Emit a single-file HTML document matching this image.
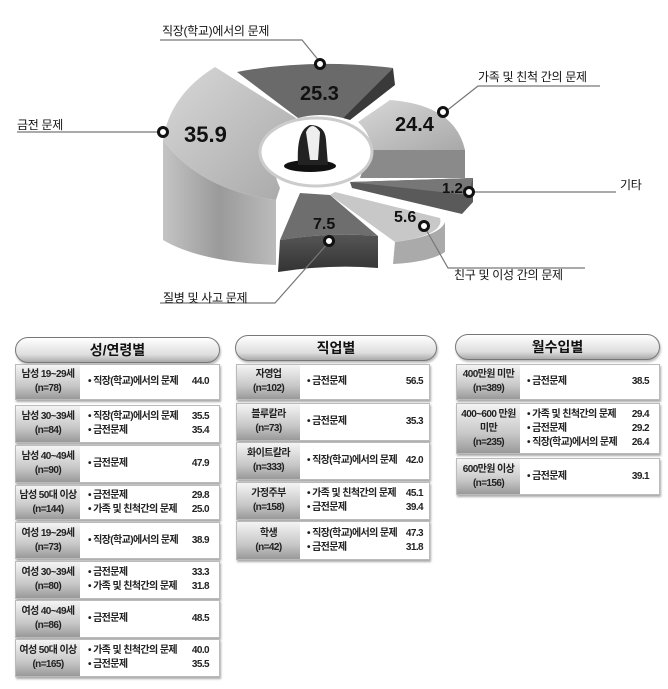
<!DOCTYPE html>
<html><head><meta charset="utf-8"><style>
body{margin:0;background:#fff;width:668px;height:689px;position:relative;overflow:hidden;font-family:"Liberation Sans","Noto Sans CJK KR",sans-serif;}
.t{position:absolute;font-size:12px;color:#111;white-space:nowrap;letter-spacing:-0.3px}
.pill{position:absolute;height:24px;border:1px solid #777;border-radius:14px;background:linear-gradient(#fff,#ddd 70%,#aaa);text-align:center;font-weight:bold;font-size:14px;line-height:24px;color:#111;box-shadow:1px 2px 2px #bbb}
.row{position:absolute;border:1px solid #bbb;box-shadow:1px 2px 2px #aaa;background:#fff;font-size:10px;font-weight:bold;letter-spacing:-0.6px;color:#222;white-space:nowrap}
.lab{position:absolute;left:0;top:0;bottom:0;background:linear-gradient(#f4f4f4,#c8c8c8 60%,#999);text-align:center;display:flex;align-items:center;justify-content:center;line-height:14px}
.c{position:absolute;top:0;bottom:0;display:flex;flex-direction:column;justify-content:center;line-height:14px}
.c div{display:flex;justify-content:space-between}
</style></head><body>
<svg width="668" height="320" style="position:absolute;left:0;top:0">
<defs>
<linearGradient id="lg" x1="0" y1="0" x2="1" y2="1"><stop offset="0" stop-color="#d8d8d8"/><stop offset="1" stop-color="#a8a8a8"/></linearGradient>
<linearGradient id="ls" x1="0" y1="0" x2="1" y2="0"><stop offset="0" stop-color="#c4c4c4"/><stop offset="0.5" stop-color="#9a9a9a"/><stop offset="1" stop-color="#bbb"/></linearGradient>
<linearGradient id="dk" x1="0" y1="0" x2="0" y2="1"><stop offset="0" stop-color="#555"/><stop offset="1" stop-color="#333"/></linearGradient>
</defs>
<path d="M163,140 L163,240 Q200,262 276,265 L276,200 Q200,190 163,140Z" fill="url(#ls)"/>
<path d="M163,140 Q170,95 215,67 L296,118 Q262,150 280,188 L276,200 Q200,190 163,140Z" fill="url(#lg)"/>
<path d="M237,72 Q310,58 393,68 L343,118 Q320,112 298,118Z" fill="#6a6a6a"/>
<path d="M393,68 L395,85 L350,120 L343,118Z" fill="#3a3a3a"/>
<path d="M358,122 L390,100 Q455,105 465,150 L370,150 Q372,135 358,122Z" fill="url(#lg)"/>
<path d="M370,150 L465,150 L465,178 L360,178Z" fill="#8a8a8a"/>
<path d="M350,182 L473,178 L473,202 L462,214 L352,188Z" fill="#5a5a5a"/>
<path d="M350,182 L473,178 L468,195 Z" fill="#777"/>
<path d="M335,192 L440,218 Q445,235 395,242 L330,195Z" fill="#c8c8c8"/>
<path d="M395,242 Q440,236 445,222 L445,252 Q430,262 393,264Z" fill="#aaa"/>
<path d="M300,193 L330,195 L378,236 Q330,232 280,240 Z" fill="#6e6e6e"/>
<path d="M280,240 Q330,232 378,236 L378,268 Q330,264 278,272Z" fill="url(#dk)"/>
<ellipse cx="316" cy="152" rx="56" ry="34" fill="#fff" stroke="#ccc" stroke-width="3"/>
<ellipse cx="310" cy="166" rx="26" ry="6" fill="#111"/>
<path d="M298,165 Q296,130 310,125 Q325,125 326,140 L328,165Z" fill="#222"/>
<path d="M306,132 Q312,120 320,132 L318,160 L310,160Z" fill="#eee"/>
<g stroke="#777" stroke-width="1.2" fill="none">
<polyline points="160,40 302,40 320,62"/>
<polyline points="600,86 478,86 445,112"/>
<polyline points="17,132 162,132"/>
<polyline points="470,192 616,192"/>
<polyline points="424,226 448,268 585,268"/>
<polyline points="329,242 275,303 160,303"/>
</g>
<g fill="#fff" stroke="#111" stroke-width="3">
<circle cx="320" cy="64" r="4.5"/><circle cx="443" cy="112" r="4.5"/><circle cx="163" cy="132" r="4.5"/>
<circle cx="469" cy="192" r="4.5"/><circle cx="424" cy="226" r="4.5"/><circle cx="329" cy="241" r="4.5"/>
</g>
<g font-family="Liberation Sans, sans-serif" font-weight="bold" fill="#111">
<text x="300" y="100" font-size="20">25.3</text>
<text x="395" y="131" font-size="20">24.4</text>
<text x="184" y="142" font-size="22">35.9</text>
<text x="442" y="193" font-size="15">1.2</text>
<text x="394" y="222" font-size="16">5.6</text>
<text x="313" y="229" font-size="16">7.5</text>
</g>
</svg>
<div class="t" style="left:162px;top:22px">직장(학교)에서의 문제</div>
<div class="t" style="left:478px;top:68px">가족 및 친척 간의 문제</div>
<div class="t" style="left:17px;top:116px">금전 문제</div>
<div class="t" style="left:620px;top:176px">기타</div>
<div class="t" style="left:454px;top:266px">친구 및 이성 간의 문제</div>
<div class="t" style="left:163px;top:289px">질병 및 사고 문제</div>

<div class="pill" style="left:15px;top:337px;width:203px">성/연령별</div>
<div class="pill" style="left:235px;top:335px;width:200px">직업별</div>
<div class="pill" style="left:455px;top:334px;width:203px">월수입별</div>

<div class="row" style="left:15px;top:364px;width:203px;height:34px"><div class="lab" style="width:64px">남성 19~29세<br>(n=78)</div><div class="c" style="left:72px;right:10px"><div><span>• 직장(학교)에서의 문제</span><span>44.0</span></div></div></div>
<div class="row" style="left:15px;top:405px;width:203px;height:36px"><div class="lab" style="width:64px">남성 30~39세<br>(n=84)</div><div class="c" style="left:72px;right:10px"><div><span>• 직장(학교)에서의 문제</span><span>35.5</span></div><div><span>• 금전문제</span><span>35.4</span></div></div></div>
<div class="row" style="left:15px;top:445px;width:203px;height:36px"><div class="lab" style="width:64px">남성 40~49세<br>(n=90)</div><div class="c" style="left:72px;right:10px"><div><span>• 금전문제</span><span>47.9</span></div></div></div>
<div class="row" style="left:15px;top:485px;width:203px;height:33px"><div class="lab" style="width:64px">남성 50대 이상<br>(n=144)</div><div class="c" style="left:72px;right:10px"><div><span>• 금전문제</span><span>29.8</span></div><div><span>• 가족 및 친척간의 문제</span><span>25.0</span></div></div></div>
<div class="row" style="left:15px;top:522px;width:203px;height:35px"><div class="lab" style="width:64px">여성 19~29세<br>(n=73)</div><div class="c" style="left:72px;right:10px"><div><span>• 직장(학교)에서의 문제</span><span>38.9</span></div></div></div>
<div class="row" style="left:15px;top:561px;width:203px;height:36px"><div class="lab" style="width:64px">여성 30~39세<br>(n=80)</div><div class="c" style="left:72px;right:10px"><div><span>• 금전문제</span><span>33.3</span></div><div><span>• 가족 및 친척간의 문제</span><span>31.8</span></div></div></div>
<div class="row" style="left:15px;top:600px;width:203px;height:36px"><div class="lab" style="width:64px">여성 40~49세<br>(n=86)</div><div class="c" style="left:72px;right:10px"><div><span>• 금전문제</span><span>48.5</span></div></div></div>
<div class="row" style="left:15px;top:639px;width:203px;height:36px"><div class="lab" style="width:64px">여성 50대 이상<br>(n=165)</div><div class="c" style="left:72px;right:10px"><div><span>• 가족 및 친척간의 문제</span><span>40.0</span></div><div><span>• 금전문제</span><span>35.5</span></div></div></div>

<div class="row" style="left:236px;top:364px;width:192px;height:34px"><div class="lab" style="width:63px">자영업<br>(n=102)</div><div class="c" style="left:70px;right:6px"><div><span>• 금전문제</span><span>56.5</span></div></div></div>
<div class="row" style="left:236px;top:403px;width:192px;height:36px"><div class="lab" style="width:63px">블루칼라<br>(n=73)</div><div class="c" style="left:70px;right:6px"><div><span>• 금전문제</span><span>35.3</span></div></div></div>
<div class="row" style="left:236px;top:442px;width:192px;height:36px"><div class="lab" style="width:63px">화이트칼라<br>(n=333)</div><div class="c" style="left:70px;right:6px"><div><span>• 직장(학교)에서의 문제</span><span>42.0</span></div></div></div>
<div class="row" style="left:236px;top:482px;width:192px;height:36px"><div class="lab" style="width:63px">가정주부<br>(n=158)</div><div class="c" style="left:70px;right:6px"><div><span>• 가족 및 친척간의 문제</span><span>45.1</span></div><div><span>• 금전문제</span><span>39.4</span></div></div></div>
<div class="row" style="left:236px;top:521px;width:192px;height:37px"><div class="lab" style="width:63px">학생<br>(n=42)</div><div class="c" style="left:70px;right:6px"><div><span>• 직장(학교)에서의 문제</span><span>47.3</span></div><div><span>• 금전문제</span><span>31.8</span></div></div></div>

<div class="row" style="left:456px;top:364px;width:202px;height:34px"><div class="lab" style="width:63px">400만원 미만<br>(n=389)</div><div class="c" style="left:70px;right:10px"><div><span>• 금전문제</span><span>38.5</span></div></div></div>
<div class="row" style="left:456px;top:403px;width:202px;height:49px"><div class="lab" style="width:63px">400~600 만원<br>미만<br>(n=235)</div><div class="c" style="left:70px;right:10px"><div><span>• 가족 및 친척간의 문제</span><span>29.4</span></div><div><span>• 금전문제</span><span>29.2</span></div><div><span>• 직장(학교)에서의 문제</span><span>26.4</span></div></div></div>
<div class="row" style="left:456px;top:458px;width:202px;height:35px"><div class="lab" style="width:63px">600만원 이상<br>(n=156)</div><div class="c" style="left:70px;right:10px"><div><span>• 금전문제</span><span>39.1</span></div></div></div>
</body></html>
